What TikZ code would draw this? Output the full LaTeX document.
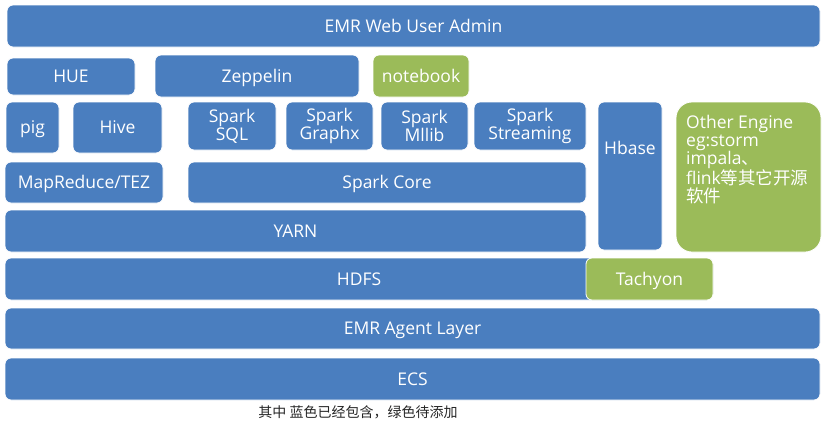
\documentclass[tikz,border=0pt]{standalone}
\usepackage{fontspec}
\setmainfont{Open Sans}
\newfontfamily\cjk{Noto Sans CJK SC}
\definecolor{bblue}{HTML}{4A7EBF}
\definecolor{bgreen}{HTML}{9BBB59}
\tikzset{
  txt/.style={text=white, align=center, font=\fontsize{17.5}{18}\selectfont},
  bx/.style={txt, fill=bblue, draw=white, line width=0.8pt, rounded corners=6pt, inner sep=0pt},
  gx/.style={bx, fill=bgreen},
  one/.style={text height=13pt, text depth=1pt},
}
\begin{document}
\begin{tikzpicture}[x=1pt,y=-1pt]
\useasboundingbox[fill=white] (0,0) rectangle (831,426);
\node[bx, one, minimum width=813pt, minimum height=42pt] (web) at (413.5,26) {EMR Web User Admin};
\node[bx, one, minimum width=128pt, minimum height=37pt] (hue) at (71,76.5) {HUE};
\node[bx, one, minimum width=204pt, minimum height=42pt] (zep) at (257,76) {Zeppelin};
\node[gx, one, minimum width=96pt, minimum height=42pt] (nb) at (421,76) {notebook};
\node[bx, one, minimum width=53pt, minimum height=51pt] (pig) at (32.5,127.5) {pig};
\node[bx, one, minimum width=89pt, minimum height=51pt] (hive) at (117.5,127.5) {Hive};
\node[bx, minimum width=88pt, minimum height=48pt] (ssql) at (232,126) {Spark\\SQL};
\node[bx, minimum width=87pt, minimum height=48pt] (sgx) at (329.5,126) {Spark\\Graphx};
\node[bx, minimum width=87pt, minimum height=48pt] (sml) at (424.5,126) {Spark\\Mllib};
\node[bx, minimum width=112pt, minimum height=48pt] (sst) at (530,126) {Spark\\Streaming};
\node[bx, minimum width=64pt, minimum height=148pt] (hbase) at (630,176) {};
\node[txt, one] (hbaset) at (630,148) {Hbase};
\node[gx, rounded corners=16pt, minimum width=145pt, minimum height=150pt] (other) at (748.5,177) {};
\node[anchor=north west, inner sep=0pt, text=white, align=left, font=\fontsize{17.5}{18}\selectfont] (othert) at (686,115) {Other Engine\\eg:storm\\impala{\cjk 、}\\flink{\cjk 等其它开源}\\{\cjk 软件}};
\node[bx, one, minimum width=158pt, minimum height=41pt] (mr) at (84,182.5) {MapReduce/TEZ};
\node[bx, one, minimum width=398pt, minimum height=41pt] (score) at (387,182.5) {Spark Core};
\node[bx, one, minimum width=581pt, minimum height=42pt] (yarn) at (295.5,231) {YARN};
\node[bx, one, minimum width=708pt, minimum height=42pt] (hdfs) at (359,279) {HDFS};
\node[gx, one, minimum width=127pt, minimum height=42pt] (tach) at (649.5,279) {Tachyon};
\node[bx, one, minimum width=815pt, minimum height=41pt] (agent) at (412.5,328.5) {EMR Agent Layer};
\node[bx, one, minimum width=815pt, minimum height=42pt] (ecs) at (412.5,379) {ECS};
\node[font=\cjk\fontsize{14}{16}\selectfont, text=black!85] (cap) at (358,412) {其中 蓝色已经包含，绿色待添加};
\end{tikzpicture}
\end{document}
